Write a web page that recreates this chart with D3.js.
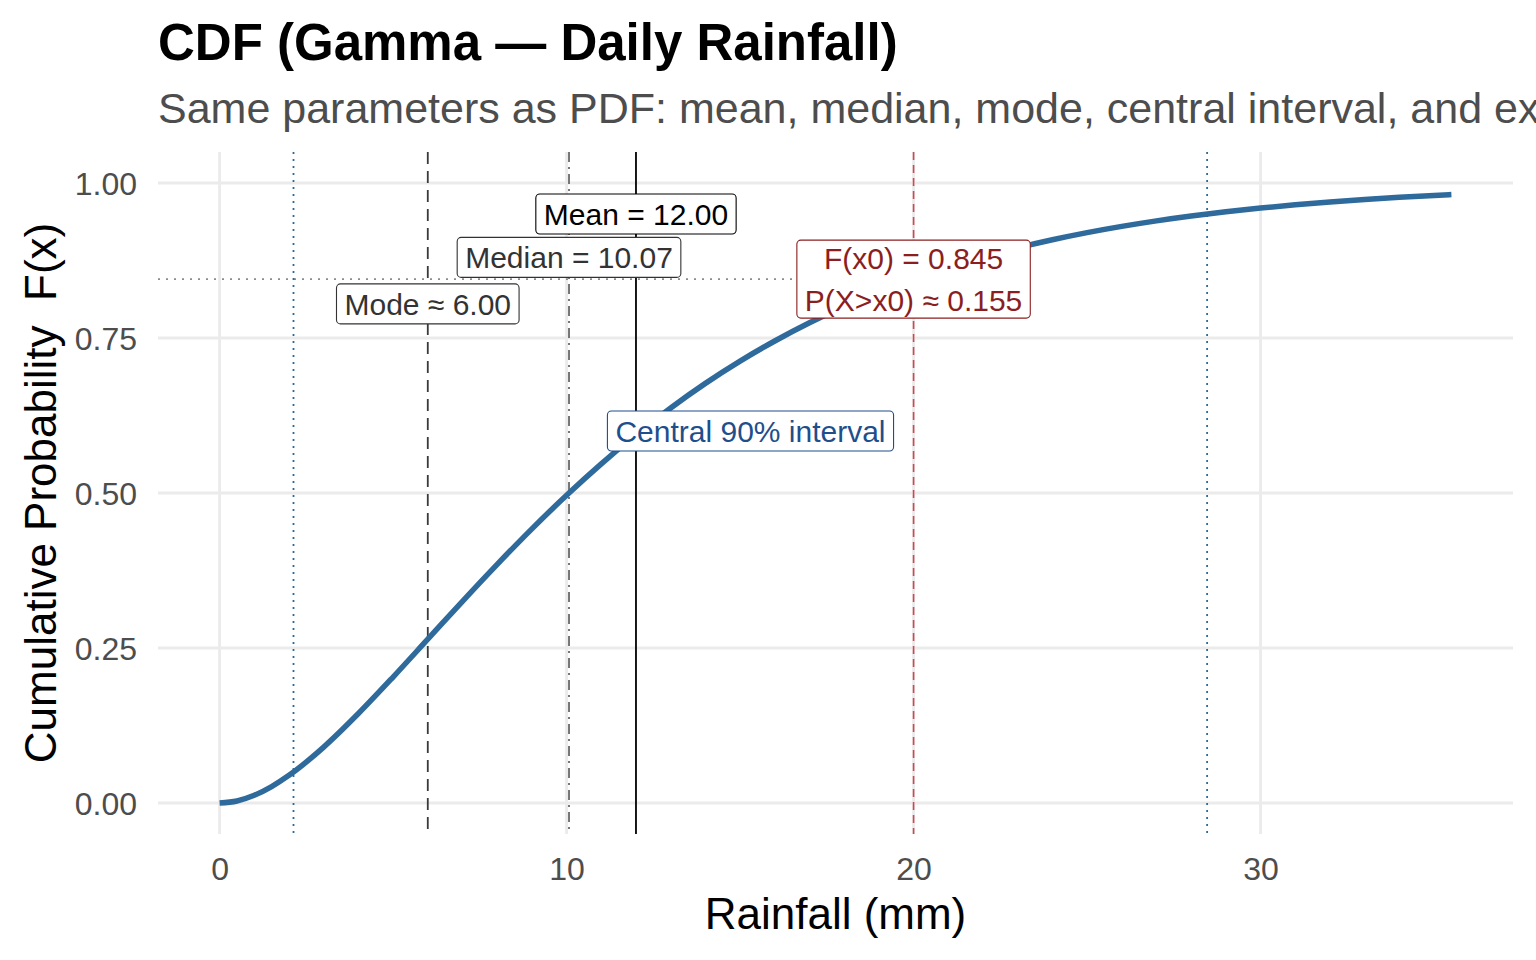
<!doctype html>
<html>
<head>
<meta charset="utf-8">
<title>CDF (Gamma — Daily Rainfall)</title>
<script src="https://d3js.org/d3.v7.min.js"></script>
<style>
  body { margin: 0; background: #fff; }
  text { font-family: "Liberation Sans", Arial, sans-serif; }
  .tick text { fill: #4d4d4d; font-size: 32px; }
</style>
</head>
<body>
<svg id="chart" width="1536" height="960"></svg>
<script>
// curve: rainfall (mm) vs cumulative probability
const rainX = [0, 0.5, 1, 1.5, 2, 3, 4, 5, 6, 7, 8, 9, 10, 11, 12, 13, 14, 15, 16, 17, 18,
  19, 20, 21, 22, 23, 24, 25, 26, 27, 28, 29, 30, 31, 32, 33, 34, 35, 35.5];
const cdfY = [0, 0.0033, 0.0124, 0.0265, 0.0446, 0.0902, 0.1443, 0.2032, 0.2642, 0.3253,
  0.3849, 0.4422, 0.4963, 0.5469, 0.5940, 0.6372, 0.6768, 0.7127, 0.7452, 0.7746, 0.8009,
  0.8244, 0.8454, 0.8641, 0.8807, 0.8954, 0.9084, 0.9199, 0.9300, 0.9389, 0.9467, 0.9536,
  0.9596, 0.9648, 0.9694, 0.9734, 0.9769, 0.9800, 0.9814];

// reference lines
const refNames = ["ciLow", "mode", "median", "mean", "x0", "ciHigh"];
const refX = [2.13, 6.00, 10.07, 12.00, 20.00, 28.46];
const x0Prob = 0.845;

// annotation labels
const labelLines = [["Mean = 12.00"], ["Median = 10.07"], ["Mode \u2248 6.00"],
  ["F(x0) = 0.845", "P(X>x0) \u2248 0.155"], ["Central 90% interval"]];
const labelX = [12.00, 10.07, 6.00, 20.00, 15.30];
const labelY = [0.95, 0.88, 0.805, 0.845, 0.60];

const xTicks = [0, 10, 20, 30];
const yTicks = [0, 0.25, 0.5, 0.75, 1];

const panel = { left: 158, right: 1513, top: 152, bottom: 834 };
const svg = d3.select("#chart");

const x = d3.scaleLinear().domain([-1.775, 37.275]).range([panel.left, panel.right]);
const y = d3.scaleLinear().domain([-0.05, 1.05]).range([panel.bottom, panel.top]);

// grid
const grid = svg.append("g");
grid.selectAll(".vg").data(xTicks).enter().append("line")
  .attr("x1", d => x(d)).attr("x2", d => x(d))
  .attr("y1", panel.top).attr("y2", panel.bottom)
  .attr("stroke", "#ebebeb").attr("stroke-width", 2.8);
grid.selectAll(".hg").data(yTicks).enter().append("line")
  .attr("x1", panel.left).attr("x2", panel.right)
  .attr("y1", d => y(d)).attr("y2", d => y(d))
  .attr("stroke", "#ebebeb").attr("stroke-width", 2.8);

// axes
const xAxis = svg.append("g")
  .attr("transform", "translate(0," + panel.bottom + ")")
  .call(d3.axisBottom(x).tickValues(xTicks).tickSize(0).tickPadding(23));
const yAxis = svg.append("g")
  .attr("transform", "translate(" + panel.left + ",0)")
  .call(d3.axisLeft(y).tickValues(yTicks).tickFormat(d3.format(".2f")).tickSize(0).tickPadding(21));
xAxis.select(".domain").remove();
yAxis.select(".domain").remove();
yAxis.selectAll(".tick text").attr("dy", "0.36em");

// reference lines styles
const refStyle = {
  ciLow:  { stroke: "#2d6a99", dash: "2,5", width: 1.8 },
  ciHigh: { stroke: "#2d6a99", dash: "2,5", width: 1.8 },
  mode:   { stroke: "#3a3a3a", dash: "12,7", width: 1.8 },
  median: { stroke: "#6a6a6a", dash: "10,5,2,5", width: 1.8 },
  mean:   { stroke: "#000000", dash: null, width: 1.8 },
  x0:     { stroke: "#d9434a", dash: "8,5", width: 1.6 }
};

svg.append("line")
  .attr("x1", panel.left).attr("x2", x(refX[4]))
  .attr("y1", y(x0Prob)).attr("y2", y(x0Prob))
  .attr("stroke", "#8c8c8c").attr("stroke-width", 1.8).attr("stroke-dasharray", "2,6");

svg.append("g").selectAll("line").data(refNames).enter().append("line")
  .attr("x1", (d, i) => x(refX[i])).attr("x2", (d, i) => x(refX[i]))
  .attr("y1", panel.top).attr("y2", panel.bottom)
  .attr("stroke", d => refStyle[d].stroke)
  .attr("stroke-width", d => refStyle[d].width)
  .attr("stroke-dasharray", d => refStyle[d].dash);

// CDF curve
const line = d3.line().x(d => x(d[0])).y(d => y(d[1])).curve(d3.curveMonotoneX);
svg.append("path")
  .datum(rainX.map((v, i) => [v, cdfY[i]]))
  .attr("d", line)
  .attr("fill", "none")
  .attr("stroke", "#2e6a9b")
  .attr("stroke-width", 5.5)
  .attr("stroke-linecap", "butt");

// labels
const labelColor = ["#000000", "#333333", "#333333", "#8b1e1e", "#1f4e8c"];
const lineH = 42, pad = 8, fs = 30;
labelLines.forEach((lines, i) => {
  const g = svg.append("g");
  const cx = x(labelX[i]), cy = y(labelY[i]);
  const rect = g.append("rect");
  const t = g.append("text")
    .attr("text-anchor", "middle")
    .attr("font-size", fs)
    .attr("fill", labelColor[i]);
  lines.forEach((s, j) => {
    t.append("tspan").attr("x", cx)
      .attr("y", cy + (j - (lines.length - 1) / 2) * lineH)
      .attr("dy", "0.36em").text(s);
  });
  const bb = t.node().getBBox();
  const h = 40 + (lines.length - 1) * 38;
  rect.attr("x", bb.x - pad).attr("y", cy - h / 2)
    .attr("width", bb.width + 2 * pad)
    .attr("height", h)
    .attr("rx", 4).attr("ry", 4)
    .attr("fill", "#fff")
    .attr("stroke", labelColor[i]).attr("stroke-width", 1.1);
});

// titles
svg.append("text").attr("x", panel.left).attr("y", 60)
  .attr("font-size", 51).attr("font-weight", "bold").attr("fill", "#000")
  .text("CDF (Gamma \u2014 Daily Rainfall)");
svg.append("text").attr("x", panel.left).attr("y", 123)
  .attr("font-size", 43).attr("fill", "#4d4d4d")
  .text("Same parameters as PDF: mean, median, mode, central interval, and exceedance");
svg.append("text").attr("x", (panel.left + panel.right) / 2).attr("y", 929)
  .attr("text-anchor", "middle").attr("font-size", 44).attr("fill", "#000")
  .text("Rainfall (mm)");
svg.append("text")
  .attr("transform", "translate(56," + (panel.top + panel.bottom) / 2 + ") rotate(-90)")
  .attr("text-anchor", "middle").attr("font-size", 44).attr("fill", "#000")
  .style("white-space", "pre")
  .text("Cumulative Probability  F(x)");
</script>
</body>
</html>
